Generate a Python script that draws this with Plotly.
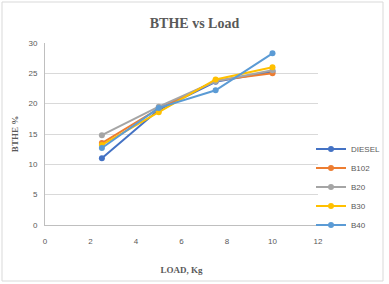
import plotly.graph_objects as go

load = [2.5, 5, 7.5, 10]
series_names = ["DIESEL", "B102", "B20", "B30", "B40"]
diesel = [11.0, 19.0, 23.6, 25.3]
b102 = [13.5, 19.2, 23.8, 25.0]
b20 = [14.8, 19.5, 23.7, 25.5]
b30 = [13.2, 18.6, 24.0, 26.0]
b40 = [12.7, 19.3, 22.2, 28.3]
x_ticks = [0, 2, 4, 6, 8, 10, 12]
y_ticks = [0, 5, 10, 15, 20, 25, 30]

colors = ["#4472C4", "#ED7D31", "#A5A5A5", "#FFC000", "#5B9BD5"]
values = [diesel, b102, b20, b30, b40]

W, H = 389, 284
L, R, T, B = 45, 71, 43, 59

fig = go.Figure()
for name, vals, c in zip(series_names, values, colors):
    fig.add_trace(go.Scatter(
        x=load, y=vals, name=name, mode="lines+markers",
        line=dict(color=c, width=2),
        marker=dict(color=c, size=6),
    ))

pw = W - L - R
ph = H - T - B
fig.add_shape(type="rect", xref="paper", yref="paper",
              x0=-(L - 2) / pw, x1=1 + (R - 6) / pw,
              y0=-(B - 3) / ph, y1=1 + (T - 2) / ph,
              line=dict(color="#D9D9D9", width=1), fillcolor="rgba(0,0,0,0)",
              layer="below")

fig.update_layout(
    width=W, height=H,
    margin=dict(l=L, r=R, t=T, b=B, autoexpand=False),
    paper_bgcolor="white", plot_bgcolor="white",
    title=dict(text="<b>BTHE vs Load</b>", x=0.5, xanchor="center", y=1 - 23 / H, yanchor="middle",
               xref="container",
               font=dict(family="Liberation Serif", size=14, color="#595959")),
    font=dict(family="Liberation Sans Narrow, Liberation Sans", size=8, color="#595959"),
    xaxis=dict(range=[0, 12], tickvals=x_ticks, showgrid=False, zeroline=False,
               showline=True, linecolor="#BFBFBF", linewidth=1, ticks="",
               ticklabelstandoff=8,
               tickfont=dict(size=8, color="#595959"),
               title=dict(text="<b>LOAD, Kg</b>", standoff=22,
                          font=dict(family="Liberation Serif", size=9, color="#595959"))),
    yaxis=dict(range=[0, 30], tickvals=y_ticks, showgrid=True, gridcolor="#D9D9D9", gridwidth=1,
               zeroline=False, showline=True, linecolor="#BFBFBF", linewidth=1, ticks="",
               ticklabelstandoff=5,
               tickfont=dict(size=8, color="#595959"),
               title=dict(text="<b>BTHE %</b>", standoff=8,
                          font=dict(family="Liberation Serif", size=9, color="#595959"))),
    legend=dict(xref="container", yref="container", x=311 / W, xanchor="left",
                y=1 - 187 / H, yanchor="middle",
                font=dict(family="Liberation Sans Narrow, Liberation Sans", size=8, color="#595959"),
                bgcolor="rgba(0,0,0,0)", tracegroupgap=0, itemwidth=30),
    showlegend=True,
)

fig.write_html("out.html")
